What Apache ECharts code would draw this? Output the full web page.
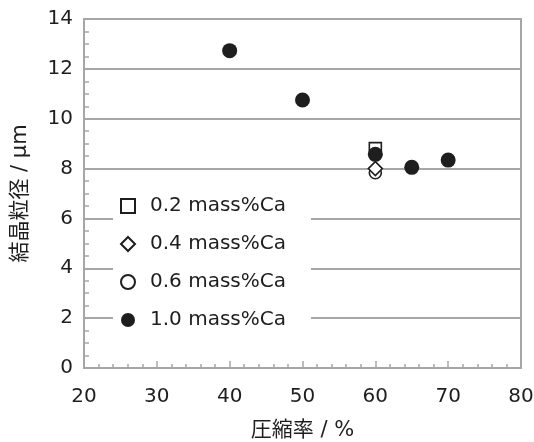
<!DOCTYPE html>
<html><head><meta charset="utf-8">
<script src="https://cdn.jsdelivr.net/npm/echarts@6/dist/echarts.min.js"></script>
<style>html,body{margin:0;padding:0;background:#fff}#c{width:534px;height:442px}</style>
</head><body><div id="c"></div>
<script>
const seriesNames = ['0.2 mass%Ca', '0.4 mass%Ca', '0.6 mass%Ca', '1.0 mass%Ca'];
const ca02 = [[60, 8.8]];
const ca04 = [[60, 8.0]];
const ca06 = [[60, 7.83]];
const ca10 = [[40, 12.73], [50, 10.75], [60, 8.57], [65, 8.05], [70, 8.34]];
const xName = '圧縮率 / %';
const yName = '結晶粒径 / μm';

const latin = '"DejaVu Sans", "Noto Sans CJK JP", sans-serif';
const gray = '#a6a6a6';
const ink = '#1e1e1e';
const chart = echarts.init(document.getElementById('c'));
const hollow = {color: '#fff', borderColor: ink, borderWidth: 1.6, opacity: 1};
chart.setOption({
  animation: false,
  grid: {left: 84, right: 13, top: 19, bottom: 74, outerBoundsMode: 'none', containLabel: false, show: true, borderColor: gray, borderWidth: 2, backgroundColor: 'transparent'},
  xAxis: {
    type: 'value', min: 20, max: 80, interval: 10,
    name: xName, nameLocation: 'middle', nameGap: 52,
    nameTextStyle: {fontFamily: latin, fontSize: 21, color: ink},
    axisLine: {show: true, lineStyle: {color: gray, width: 2}},
    axisTick: {show: true, inside: true, length: 7, lineStyle: {color: gray, width: 1.5}},
    minorTick: {show: true, splitNumber: 5, length: 4, lineStyle: {color: gray, width: 1.5}},
    axisLabel: {fontFamily: latin, fontSize: 20, color: ink, margin: 19},
    splitLine: {show: false}
  },
  yAxis: {
    type: 'value', min: 0, max: 14, interval: 2,
    name: yName, nameLocation: 'middle', nameGap: 53, nameRotate: 90,
    nameTextStyle: {fontFamily: latin, fontSize: 21, color: ink},
    axisLine: {show: true, lineStyle: {color: gray, width: 2}},
    axisTick: {show: true, inside: true, length: 6, lineStyle: {color: gray, width: 1.5}},
    minorTick: {show: true, splitNumber: 4, length: 5, lineStyle: {color: gray, width: 1.5}},
    axisLabel: {fontFamily: latin, fontSize: 20, color: ink, margin: 11},
    splitLine: {show: true, lineStyle: {color: gray, width: 2}}
  },
  legend: {
    orient: 'vertical', left: 113, top: 186,
    data: seriesNames,
    backgroundColor: '#fff',
    padding: [10, 25, 8, 7],
    itemWidth: 14, itemHeight: 14, itemGap: 18,
    textStyle: {fontFamily: latin, fontSize: 20, lineHeight: 20, color: ink, padding: [0, 0, 0, 10]}
  },
  series: [
    {name: seriesNames[0], type: 'scatter', data: ca02, symbol: 'rect', symbolSize: 12, itemStyle: hollow, z: 2},
    {name: seriesNames[3], type: 'scatter', data: ca10, symbol: 'circle', symbolSize: 15, itemStyle: {color: ink, opacity: 1}, z: 3},
    {name: seriesNames[2], type: 'scatter', data: ca06, symbol: 'circle', symbolSize: 12, itemStyle: hollow, z: 4},
    {name: seriesNames[1], type: 'scatter', data: ca04, symbol: 'diamond', symbolSize: 14, itemStyle: hollow, z: 5}
  ]
});
</script></body></html>
